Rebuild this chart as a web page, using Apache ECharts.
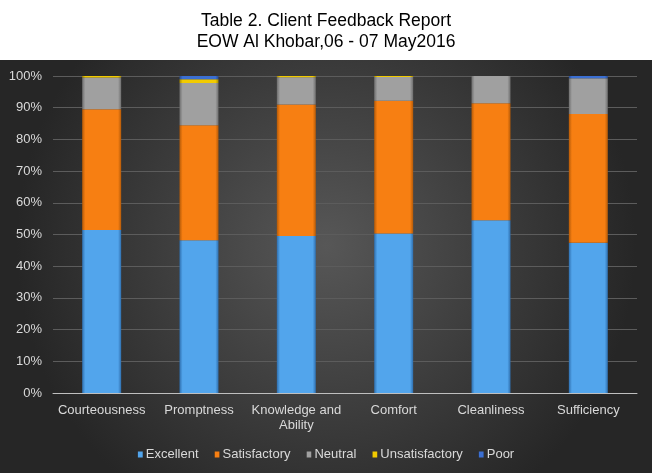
<!DOCTYPE html>
<html>
<head>
<meta charset="utf-8">
<script src="https://cdn.jsdelivr.net/npm/echarts@6/dist/echarts.min.js"></script>
<style>html,body{margin:0;padding:0;background:#fff}#c{width:652px;height:473px}</style>
</head>
<body>
<div id="c"></div>
<script>
var categories = ['Courteousness', 'Promptness', 'Knowledge and\nAbility', 'Comfort', 'Cleanliness', 'Sufficiency'];
var excellent = [51.4, 48.2, 49.5, 50.3, 54.5, 47.4];
var satisfactory = [38.1, 36.3, 41.5, 41.9, 36.9, 40.6];
var neutral = [10.0, 13.3, 8.6, 7.5, 8.6, 11.3];
var unsatisfactory = [0.5, 1.2, 0.4, 0.3, 0, 0];
var poor = [0, 1.0, 0, 0, 0, 0.7];
var seriesNames = ['Excellent', 'Satisfactory', 'Neutral', 'Unsatisfactory', 'Poor'];
var yTicks = [0, 10, 20, 30, 40, 50, 60, 70, 80, 90, 100];

function grad(c1, c2) {
  return new echarts.graphic.LinearGradient(0, 0, 1, 0, [
    {offset: 0, color: c2}, {offset: 0.08, color: c1}, {offset: 0.92, color: c1}, {offset: 1, color: c2}
  ]);
}
var colors = [
  ['#52a5ec', '#2f6fae'],
  ['#f77f12', '#b45a08'],
  ['#a0a0a0', '#6e6e6e'],
  ['#f2cb00', '#a88c00'],
  ['#3b6fd2', '#284c92']
];
var dataArr = [excellent, satisfactory, neutral, unsatisfactory, poor];

var chart = echarts.init(document.getElementById('c'), null, {renderer: 'canvas'});
var textColor = '#d9d9d9';
var option = {
  animation: false,
  backgroundColor: '#ffffff',
  color: colors.map(function (c) { return c[0]; }),
  textStyle: {fontFamily: 'Liberation Sans, Arial, sans-serif'},
  graphic: [{
    type: 'rect', z: -10, silent: true,
    shape: {x: 0, y: 60, width: 652, height: 413},
    style: {fill: new echarts.graphic.RadialGradient(0.5, 0.45, 0.75, [
      {offset: 0, color: '#575757'}, {offset: 1, color: '#262626'}
    ])}
  }],
  title: {
    text: 'Table 2. Client Feedback Report\nEOW Al Khobar,06 - 07 May2016',
    left: 'center', top: 6,
    textStyle: {color: '#000', fontSize: 17.5, fontWeight: 'normal', lineHeight: 21, fontFamily: 'Liberation Sans, Arial, sans-serif'}
  },
  legend: {
    top: 443, left: 'center',
    itemWidth: 5, itemHeight: 6, itemGap: 16,
    icon: 'rect',
    textStyle: {color: textColor, fontSize: 13, padding: [0, 0, 0, -2]},
    data: seriesNames
  },
  grid: {left: 53, right: 15, top: 76, bottom: 80},
  xAxis: {
    type: 'category', data: categories,
    axisLine: {lineStyle: {color: '#bfbfbf', width: 1}},
    axisTick: {show: false},
    axisLabel: {color: textColor, fontSize: 13, margin: 10, interval: 0, lineHeight: 15}
  },
  yAxis: {
    type: 'value', min: 0, max: 100, interval: 10,
    axisLine: {show: false}, axisTick: {show: false},
    axisLabel: {color: textColor, fontSize: 13, margin: 11, formatter: function (v) { return yTicks.indexOf(v) >= 0 ? v + '%' : ''; }},
    splitLine: {lineStyle: {color: '#5c5c5c', width: 1}}
  },
  series: seriesNames.map(function (n, i) {
    return {
      name: n, type: 'bar', stack: 'total', barWidth: 39,
      data: dataArr[i],
      itemStyle: {color: grad(colors[i][0], colors[i][1])}
    };
  })
};
chart.setOption(option);
</script>
</body>
</html>
